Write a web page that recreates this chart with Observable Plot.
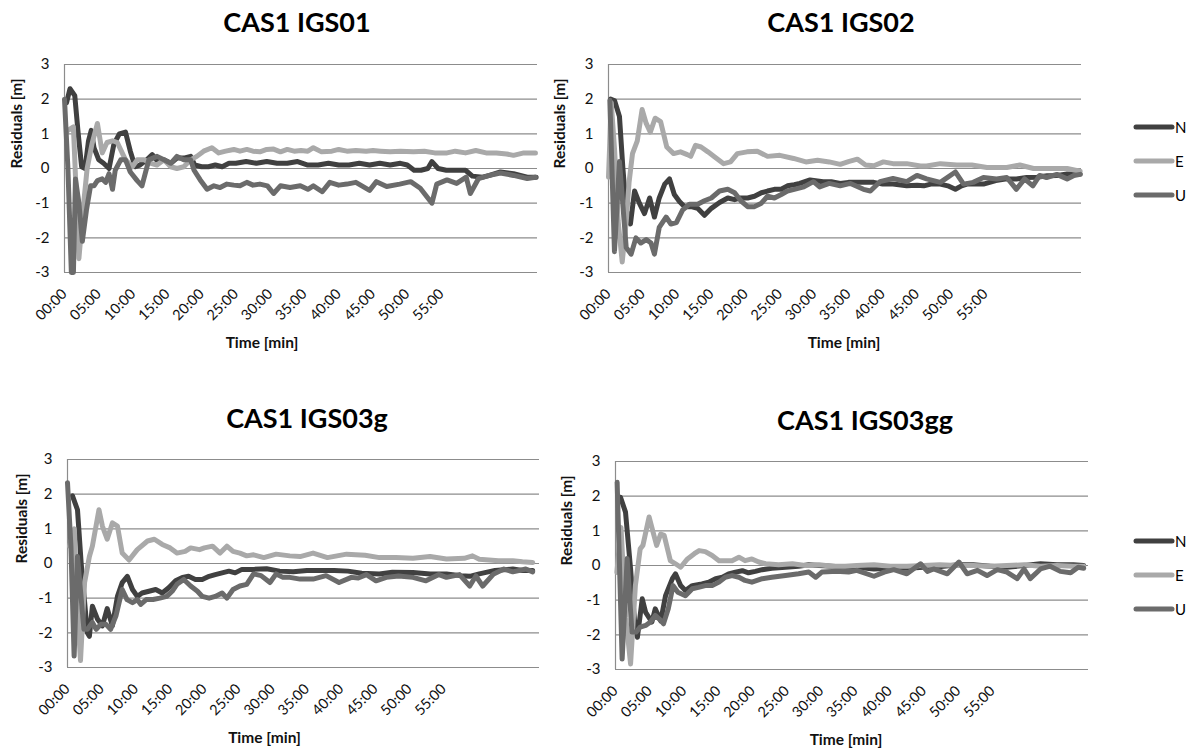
<!DOCTYPE html>
<html><head><meta charset="utf-8">
<script src="https://cdn.jsdelivr.net/npm/d3@7"></script>
<script src="https://cdn.jsdelivr.net/npm/@observablehq/plot@0.6"></script>
<style>
body{margin:0;background:#fff;font-family:Lato,"Open Sans",sans-serif;}
#root{position:relative;width:1191px;height:756px;overflow:hidden;background:#fff;}
.title{position:absolute;font-weight:bold;font-size:27px;color:#000;text-align:center;width:400px;line-height:30px;}
.panel{position:absolute;}
.legend{position:absolute;font-size:15px;color:#000;}
.legend div{display:flex;align-items:center;height:34px;}
</style></head><body><div id="root"></div>
<script>
// ---- data: [minute, residual in m] ----
const seriesNames = ["N", "E", "U"];
const seriesColors = ["#404040", "#a9a9a9", "#6b6b6b"];
const yTicks = [-3, -2, -1, 0, 1, 2, 3];
const xTicks = [0, 5, 10, 15, 20, 25, 30, 35, 40, 45, 50, 55];
const titles = ["CAS1 IGS01", "CAS1 IGS02", "CAS1 IGS03g", "CAS1 IGS03gg"];

const IGS01_N = [[0.3,1.9],[0.8,2.3],[1.5,2.1],[2.0,1.0],[2.5,0.05],[3.0,0.0],[3.5,0.8],[3.9,1.1],[4.3,0.6],[5.0,0.25],[5.7,0.15],[6.5,0.0],[7.2,0.7],[8.0,1.0],[8.9,1.05],[9.6,0.5],[10.3,0.05],[11.0,0.1],[12.0,0.25],[12.8,0.4],[13.6,0.2],[14.5,0.25],[15.5,0.15],[16.4,0.3],[17.4,0.3],[18.4,0.35],[19.0,0.1],[20.0,0.05],[21.0,0.05],[22.0,0.1],[23.0,0.05],[24.0,0.15],[25.0,0.15],[26.5,0.2],[28.0,0.15],[29.5,0.2],[31.0,0.15],[32.5,0.15],[34.0,0.2],[35.5,0.1],[37,0.1],[38.5,0.15],[40,0.1],[41.5,0.1],[43,0.15],[44.5,0.1],[46,0.15],[47.5,0.1],[49,0.15],[50,0.1],[51,-0.05],[52,-0.05],[53,0.0],[53.6,0.2],[54.5,0.0],[55.7,-0.05],[57,-0.05],[58.5,-0.05],[59.5,-0.22],[61,-0.25],[62,-0.2],[63.6,-0.1],[65.5,-0.15],[67.5,-0.25],[68.8,-0.25]];
const IGS01_E = [[0.5,1.1],[1.3,1.2],[2.1,-2.6],[2.8,-1.0],[3.3,0.0],[4.0,0.7],[4.8,1.3],[5.5,0.45],[6.2,0.75],[7.0,0.8],[7.7,0.75],[8.9,0.25],[9.9,0.05],[10.6,0.25],[11.6,0.25],[12.6,0.15],[13.5,0.1],[14.5,0.25],[15.5,0.05],[16.4,0.0],[17.4,0.05],[18.4,0.25],[19.3,0.35],[20.3,0.5],[21.5,0.6],[22.5,0.45],[23.5,0.5],[24.7,0.55],[25.6,0.5],[26.6,0.55],[27.5,0.5],[28.5,0.48],[29.5,0.55],[30.5,0.56],[31.5,0.48],[32.5,0.55],[33.5,0.5],[34.5,0.52],[35.5,0.5],[36.3,0.6],[37.5,0.48],[39,0.5],[40,0.55],[41.2,0.5],[42.5,0.52],[44,0.5],[45,0.52],[46.1,0.5],[47.5,0.48],[49,0.5],[50.9,0.48],[52.5,0.5],[54,0.45],[55.8,0.45],[57,0.5],[58.5,0.45],[60,0.52],[61.5,0.45],[63,0.45],[64.5,0.42],[65.5,0.38],[67,0.45],[68.7,0.45]];
const IGS01_U = [[0,2.0],[0.5,0.0],[1.0,-3.0],[1.3,-3.0],[1.6,-0.3],[2.1,-1.0],[2.6,-2.1],[3.2,-1.2],[3.8,-0.5],[4.3,-0.5],[4.8,-0.35],[5.5,-0.3],[6.0,-0.4],[6.5,-0.15],[7.0,-0.6],[7.4,-0.05],[8.2,0.25],[8.9,0.25],[9.6,-0.1],[10.6,-0.35],[11.3,-0.5],[12.3,0.25],[13.5,0.35],[14.5,0.25],[15.5,0.15],[16.4,0.35],[17.4,0.25],[18.4,0.25],[18.9,-0.05],[19.8,-0.33],[20.8,-0.6],[21.8,-0.5],[22.7,-0.55],[23.7,-0.45],[24.7,-0.48],[25.6,-0.5],[26.6,-0.4],[27.5,-0.48],[28.5,-0.45],[29.6,-0.5],[30.5,-0.72],[31.5,-0.5],[32.9,-0.55],[34.4,-0.5],[35.5,-0.6],[36.3,-0.5],[37.6,-0.67],[38.7,-0.4],[40,-0.48],[41.2,-0.45],[42.5,-0.4],[44.5,-0.63],[45.5,-0.38],[47,-0.52],[48.9,-0.45],[50.5,-0.38],[51.9,-0.57],[53.6,-1.0],[54.3,-0.45],[55.8,-0.33],[57.2,-0.43],[58.6,-0.25],[59.2,-0.72],[60.4,-0.29],[62,-0.2],[63.6,-0.13],[65.5,-0.2],[67.5,-0.29],[68.7,-0.25]];

const IGS02_N = [[0.3,2.0],[0.9,1.95],[1.6,1.5],[2.1,0.0],[2.6,-1.2],[3.2,-1.6],[3.8,-0.65],[4.5,-1.0],[5.25,-1.3],[6.0,-0.85],[6.7,-1.4],[7.4,-0.85],[8.2,-0.45],[8.9,-0.3],[9.6,-0.75],[10.35,-0.95],[11.1,-1.1],[12.05,-1.1],[13.0,-1.15],[14.0,-1.35],[15.0,-1.15],[16.2,-0.98],[17.4,-0.85],[18.4,-0.9],[19.3,-0.85],[20.3,-0.85],[21.3,-0.8],[22.3,-0.7],[23.2,-0.65],[24.2,-0.6],[25.2,-0.6],[26.1,-0.5],[27.1,-0.47],[27.9,-0.43],[29.4,-0.33],[31.3,-0.38],[32.5,-0.38],[33.8,-0.43],[35,-0.4],[36.3,-0.4],[38.7,-0.4],[40,-0.45],[41.5,-0.45],[43.5,-0.5],[45,-0.48],[46,-0.5],[47,-0.45],[48.4,-0.45],[49.5,-0.5],[50.6,-0.6],[51.5,-0.5],[52.3,-0.45],[53.5,-0.45],[54.7,-0.45],[56.5,-0.35],[58.1,-0.3],[59.5,-0.3],[61,-0.26],[62.5,-0.25],[64,-0.21],[65.5,-0.2],[66.9,-0.16],[68.8,-0.16]];
const IGS02_E = [[0,-0.25],[0.4,1.9],[0.9,0.5],[1.4,-1.5],[2.0,-2.7],[2.6,-1.5],[3.0,-0.4],[3.5,0.43],[4.2,0.8],[4.9,1.7],[5.5,1.3],[6.1,1.05],[6.8,1.45],[7.6,1.35],[8.5,0.62],[9.5,0.43],[10.5,0.48],[11.5,0.4],[12.0,0.35],[12.7,0.67],[13.5,0.62],[14.5,0.48],[15.5,0.33],[16.8,0.14],[17.8,0.19],[18.8,0.43],[20.2,0.48],[21.7,0.5],[23.2,0.35],[25,0.38],[27,0.29],[28.8,0.19],[30.5,0.24],[32.2,0.19],[33.8,0.12],[35,0.2],[36.3,0.27],[37.5,0.1],[38.7,0.08],[40.1,0.19],[41.5,0.14],[43.5,0.14],[45.5,0.07],[46.4,0.07],[48.4,0.14],[50.8,0.1],[53,0.1],[55.2,0.03],[58.1,0.03],[60,0.1],[62,0.0],[64,0.0],[66.9,0.0],[68.8,-0.08]];
const IGS02_U = [[0.2,1.97],[0.87,-2.4],[1.6,0.2],[2.58,-2.28],[3.3,-2.47],[4.0,-2.0],[4.7,-2.15],[5.5,-2.05],[6.2,-2.15],[6.7,-2.47],[7.4,-1.7],[8.4,-1.4],[9.1,-1.6],[9.9,-1.56],[10.8,-1.2],[11.8,-1.03],[13.0,-1.03],[14.0,-0.93],[15.0,-0.85],[16.2,-0.65],[17.4,-0.6],[18.4,-0.7],[19.3,-0.93],[20.3,-1.1],[21.3,-1.1],[22.3,-1.0],[23.2,-0.8],[24.2,-0.85],[25.2,-0.75],[26.1,-0.65],[27.1,-0.6],[28.5,-0.53],[29.9,-0.38],[30.8,-0.53],[32.2,-0.43],[33.8,-0.5],[35.3,-0.43],[37.2,-0.6],[38.2,-0.65],[39.6,-0.38],[41.5,-0.29],[43.5,-0.38],[45,-0.2],[46.4,-0.3],[48.4,-0.4],[50.6,-0.1],[51.8,-0.45],[53.2,-0.4],[54.7,-0.26],[56.6,-0.3],[58.1,-0.26],[59.5,-0.6],[60.7,-0.3],[61.9,-0.5],[62.9,-0.2],[63.9,-0.26],[65.4,-0.17],[66.9,-0.3],[67.9,-0.2],[68.8,-0.17]];

const IGS03g_N = [[0.73,1.95],[1.46,1.55],[2.0,0.0],[2.9,-2.0],[3.2,-2.1],[3.64,-1.23],[4.37,-1.6],[5.1,-1.8],[5.8,-1.3],[6.56,-1.8],[7.3,-0.95],[8.0,-0.55],[8.75,-0.37],[9.5,-0.75],[10.2,-0.95],[10.9,-0.85],[11.9,-0.8],[12.9,-0.75],[13.85,-0.85],[14.8,-0.7],[15.8,-0.5],[16.8,-0.4],[17.7,-0.37],[18.7,-0.46],[19.7,-0.46],[20.7,-0.37],[21.6,-0.32],[22.6,-0.27],[23.6,-0.22],[24.5,-0.27],[25.5,-0.17],[26.5,-0.17],[27.2,-0.17],[29.1,-0.15],[31,-0.22],[33,-0.24],[35,-0.2],[37,-0.2],[39,-0.2],[41,-0.22],[43,-0.28],[45.6,-0.3],[47.5,-0.25],[50.5,-0.26],[53,-0.3],[55.4,-0.3],[57.5,-0.35],[58.8,-0.37],[60.2,-0.3],[62.5,-0.2],[65.1,-0.16],[66.5,-0.2],[68,-0.2]];
const IGS03g_E = [[0.3,0.5],[1.0,1.0],[1.5,-1.5],[1.9,-2.8],[2.5,-0.55],[3.2,0.2],[3.64,0.5],[4.6,1.55],[5.1,1.08],[5.8,0.7],[6.56,1.17],[7.3,1.08],[8.0,0.3],[9.0,0.1],[10.2,0.4],[11.7,0.65],[12.7,0.7],[13.85,0.55],[15.0,0.45],[16.0,0.3],[17.2,0.35],[18.0,0.45],[19.3,0.4],[20.0,0.45],[21.2,0.5],[22.3,0.3],[23.3,0.5],[24.2,0.35],[25.2,0.3],[26.2,0.22],[27.2,0.25],[28.7,0.17],[30.5,0.27],[32.5,0.22],[34,0.2],[35.9,0.3],[38,0.17],[40.8,0.27],[43.5,0.24],[45.6,0.17],[48,0.17],[50.5,0.15],[53,0.2],[55.4,0.13],[58,0.15],[59.2,0.22],[60.2,0.12],[63,0.08],[65.1,0.08],[66.5,0.05],[68,0.03]];
const IGS03g_U = [[0,2.33],[0.5,0.5],[0.97,-2.67],[1.46,0.2],[2.4,-1.9],[2.9,-1.9],[3.64,-1.7],[4.2,-1.9],[4.9,-1.75],[5.6,-1.75],[6.3,-1.9],[7.1,-1.5],[8.0,-0.75],[8.7,-1.04],[9.5,-1.13],[10.2,-1.04],[10.7,-1.18],[11.5,-1.04],[12.5,-1.04],[13.5,-1.0],[14.5,-0.95],[15.3,-0.8],[16.0,-0.6],[17.0,-0.46],[18.0,-0.65],[19.0,-0.8],[19.7,-0.95],[20.7,-1.0],[21.6,-0.95],[22.6,-0.85],[23.3,-1.0],[24.2,-0.75],[25.2,-0.65],[26.2,-0.6],[27.2,-0.3],[28.3,-0.35],[29.6,-0.55],[30.5,-0.3],[31.5,-0.4],[32.5,-0.4],[34,-0.45],[35.9,-0.45],[37.8,-0.35],[39.7,-0.55],[41.5,-0.4],[42.5,-0.42],[43.7,-0.32],[45.1,-0.5],[46.6,-0.4],[48.4,-0.36],[50.5,-0.4],[52.4,-0.5],[54.3,-0.32],[55.4,-0.4],[57.3,-0.32],[58.8,-0.65],[59.7,-0.36],[60.7,-0.65],[62.3,-0.3],[63.8,-0.16],[65.1,-0.24],[67,-0.16],[68,-0.24]];

const IGS03gg_N = [[0.73,1.97],[1.46,1.54],[2.2,-0.1],[2.9,-1.92],[3.2,-2.07],[3.9,-0.96],[4.4,-1.35],[5.3,-1.63],[5.8,-1.25],[6.6,-1.6],[7.3,-0.87],[8.3,-0.38],[8.75,-0.24],[9.5,-0.58],[10.2,-0.72],[11.2,-0.58],[12.6,-0.53],[13.6,-0.48],[14.6,-0.38],[15.6,-0.34],[16.5,-0.24],[17.5,-0.19],[18.5,-0.15],[19.4,-0.21],[20.4,-0.17],[21.4,-0.12],[22.8,-0.08],[24.8,-0.05],[26.7,-0.02],[28.2,0.02],[29.7,0.0],[31.6,-0.02],[33.5,-0.05],[35.2,-0.05],[37.7,-0.1],[40,-0.08],[42.5,-0.08],[45,-0.05],[47.5,-0.03],[50,0.02],[52.2,0.02],[54.7,-0.02],[57.1,-0.05],[59.6,0.0],[62,0.05],[64.4,0.02],[66.8,0.02],[68.3,0.0]];
const IGS03gg_E = [[0.2,-0.2],[0.8,1.1],[1.5,-1.5],[2.2,-2.84],[2.9,-0.58],[3.6,0.48],[4.0,0.58],[4.9,1.4],[5.5,0.95],[6.0,0.58],[6.6,0.91],[7.1,0.87],[8.0,0.14],[8.75,0.05],[9.5,-0.05],[10.5,0.19],[11.5,0.34],[12.2,0.43],[13.1,0.4],[14.1,0.29],[15.1,0.14],[16.0,0.14],[17.0,0.14],[18.0,0.24],[18.9,0.14],[19.9,0.19],[20.9,0.1],[21.9,0.05],[23.8,0.02],[25.8,0.05],[27.7,0.0],[29.7,0.02],[31.6,-0.02],[33.5,-0.02],[35.2,0.0],[37.7,0.02],[40.1,-0.02],[42.5,-0.02],[44.9,0.0],[47.3,0.02],[49.8,0.0],[52.2,0.0],[54.7,-0.02],[57.1,0.0],[59.6,0.02],[62,-0.02],[64.4,0.0],[66.8,-0.02],[68.3,-0.02]];
const IGS03gg_U = [[0.24,2.4],[0.97,-2.7],[1.7,0.2],[2.4,-1.92],[3.0,-1.92],[3.6,-1.78],[4.4,-1.73],[5.1,-1.63],[5.8,-1.44],[6.6,-1.58],[7.0,-1.68],[7.7,-1.25],[8.4,-0.58],[9.1,-0.77],[10.2,-0.87],[11.2,-0.67],[12.1,-0.63],[13.1,-0.58],[14.1,-0.58],[15.1,-0.48],[16.0,-0.34],[17.0,-0.29],[18.0,-0.34],[18.9,-0.43],[19.9,-0.48],[21.4,-0.38],[22.8,-0.34],[24.8,-0.29],[26.7,-0.24],[28.2,-0.19],[29.2,-0.34],[30.1,-0.19],[31.6,-0.17],[32.8,-0.17],[34,-0.19],[35.2,-0.14],[37.7,-0.31],[39.2,-0.19],[40.6,-0.12],[42.5,-0.24],[44.5,0.05],[45.5,-0.17],[46.4,-0.1],[48.4,-0.24],[50.1,0.1],[51.3,-0.24],[52.8,-0.14],[54.2,-0.29],[55.7,-0.12],[57.1,-0.19],[58.6,-0.38],[59.6,-0.1],[60.5,-0.38],[62,-0.1],[63.4,-0.02],[64.9,-0.17],[66.4,-0.21],[67.5,-0.05],[68.3,-0.08]];

// ---- drawing ----
const root = document.getElementById("root");
const fmtX = d => String(d).padStart(2, "0") + ":00";
const fmtY = d => String(d);
const FONT = "Lato, 'Open Sans', sans-serif";

function makePanel(cfg) {
  const rows = [];
  cfg.series.forEach((arr, i) => arr.forEach(([t, v]) => rows.push({t, v, s: seriesNames[i]})));
  const plot = Plot.plot({
    width: 560, height: 318,
    marginLeft: cfg.ml, marginRight: cfg.mr, marginTop: 24, marginBottom: 86,
    style: {fontFamily: FONT, fontSize: "14px", color: "#111", background: "transparent", overflow: "visible"},
    x: {domain: [0, 69]},
    y: {domain: [-3, 3]},
    color: {domain: seriesNames, range: seriesColors},
    marks: [
      Plot.ruleY(yTicks, {stroke: "#8c8c8c", strokeWidth: 1.2}),
      Plot.ruleX([0], {stroke: "#8c8c8c", strokeWidth: 1.2}),
      Plot.axisY({ticks: yTicks, tickFormat: fmtY, tickSize: 0, tickPadding: 15, label: null, fontSize: 15}),
      Plot.axisX({ticks: xTicks, tickFormat: fmtX, tickSize: 0, tickPadding: 19, tickRotate: -45, label: null, fontSize: 14.5}),
      Plot.line(rows, {x: "t", y: "v", z: "s", stroke: "s", strokeWidth: 5, strokeLinejoin: "round", strokeLinecap: "round"}),
      Plot.text(["Residuals [m]"], {frameAnchor: "left", dx: cfg.ylx - cfg.ml, rotate: -90, fontWeight: "bold", fontSize: 15.5}),
      Plot.text(["Time [min]"], {frameAnchor: "bottom", dx: cfg.xlDx, dy: 75, fontWeight: "bold", fontSize: 15.5})
    ]
  });
  const div = document.createElement("div");
  div.className = "panel";
  div.style.left = cfg.left + "px";
  div.style.top = cfg.top + "px";
  div.appendChild(plot);
  root.appendChild(div);

  const t = document.createElement("div");
  t.className = "title";
  t.textContent = cfg.title;
  t.style.left = (cfg.tx - 200) + "px";
  t.style.top = (cfg.ty - 15) + "px";
  root.appendChild(t);
}

function makeLegend(left, top) {
  const lg = document.createElement("div");
  lg.className = "legend";
  lg.style.left = left + "px";
  lg.style.top = top + "px";
  seriesNames.forEach((n, i) => {
    const row = document.createElement("div");
    row.innerHTML = `<svg width="42" height="10"><line x1="3" y1="5" x2="39" y2="5" stroke="${seriesColors[i]}" stroke-width="5" stroke-linecap="round"/></svg><span>${n}</span>`;
    lg.appendChild(row);
  });
  root.appendChild(lg);
}

makePanel({series: [IGS01_N, IGS01_E, IGS01_U], left: 0, top: 40, ml: 64, mr: 23, ylx: 17, xlDx: -39, title: titles[0], tx: 297, ty: 22});
makePanel({series: [IGS02_N, IGS02_E, IGS02_U], left: 544, top: 40, ml: 64, mr: 23, ylx: 16, xlDx: -1, title: titles[1], tx: 841, ty: 22});
makePanel({series: [IGS03g_N, IGS03g_E, IGS03g_U], left: 0, top: 435, ml: 67, mr: 21, ylx: 22, xlDx: -39, title: titles[2], tx: 307, ty: 418});
makePanel({series: [IGS03gg_N, IGS03gg_E, IGS03gg_U], left: 548, top: 437, ml: 67, mr: 20, ylx: 19, xlDx: -6, title: titles[3], tx: 865, ty: 420});
makeLegend(1133, 110);
makeLegend(1133, 524);
</script></body></html>
